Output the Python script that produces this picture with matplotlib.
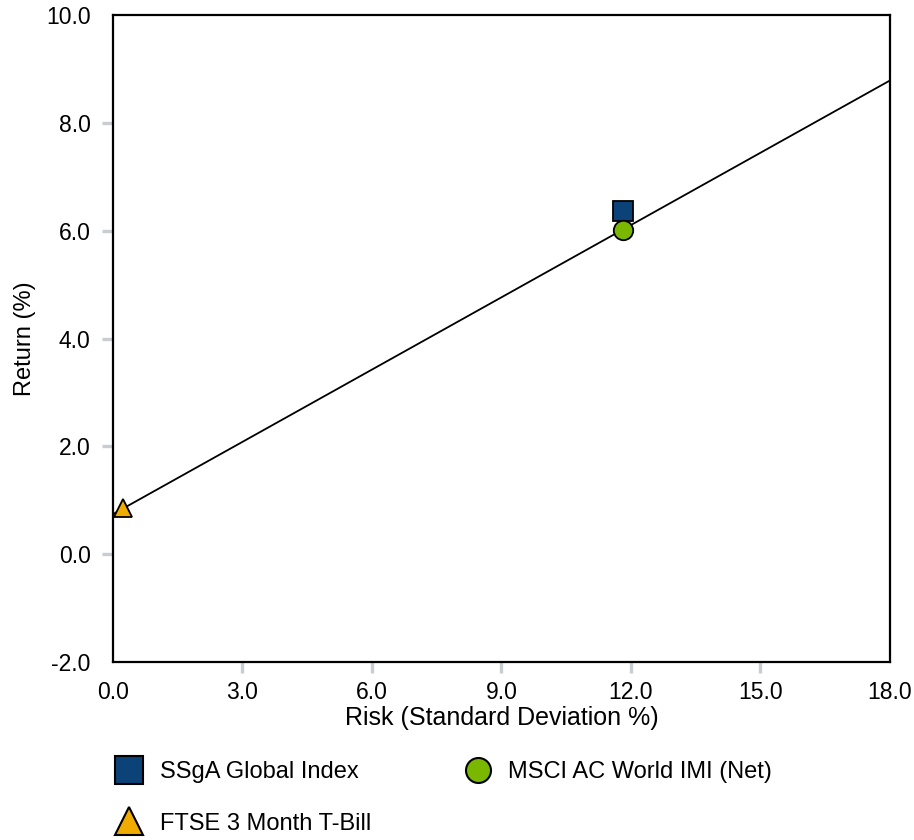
import numpy as np
import matplotlib.pyplot as plt
from matplotlib.lines import Line2D

plt.rcParams['font.family'] = ['Liberation Sans', 'DejaVu Sans']

# risk / return points
names = ['SSgA Global Index', 'MSCI AC World IMI (Net)', 'FTSE 3 Month T-Bill']
risk = [11.81, 11.81, 0.24]
ret = [6.37, 6.02, 0.85]
markers = ['s', 'o', '^']
colors = ['#0b4277', '#7ab800', '#f0ab00']

x_ticks = [0.0, 3.0, 6.0, 9.0, 12.0, 15.0, 18.0]
y_ticks = [-2.0, 0.0, 2.0, 4.0, 6.0, 8.0, 10.0]

fig = plt.figure(figsize=(9.14, 8.4), dpi=100)
ax = fig.add_axes([0.1236, 0.2119, 0.8501, 0.7702])

# capital market line through the T-bill and the market index
slope = (ret[1] - ret[2]) / (risk[1] - risk[2])
xs = np.array([x_ticks[0], x_ticks[-1]])
ax.plot(xs, ret[2] + slope * (xs - risk[2]), color='black', lw=1.3, zorder=2)

sizes = [14.5, 14, 12.5]
for n, x, y, m, c, s in zip(names, risk, ret, markers, colors, sizes):
    ax.plot([x], [y], linestyle='none', marker=m, markersize=s,
            markerfacecolor=c, markeredgecolor='black', markeredgewidth=1.3,
            zorder=3, clip_on=False)

ax.set_xlim(x_ticks[0], x_ticks[-1])
ax.set_ylim(y_ticks[0], y_ticks[-1])
ax.set_xticks(x_ticks)
ax.set_yticks(y_ticks)
ax.set_xticklabels([f'{v:.1f}' for v in x_ticks])
ax.set_yticklabels([f'{v:.1f}' for v in y_ticks])
ax.tick_params(direction='out', length=8, width=2.4, color='#c8cdd2',
               labelsize=16.5)
ax.tick_params(axis='x', pad=6)
ax.tick_params(axis='y', pad=8)
# no tick marks at the corners
for axis in (ax.xaxis, ax.yaxis):
    ticks = axis.get_major_ticks()
    for t in (ticks[0], ticks[-1]):
        t.tick1line.set_visible(False)

for sp in ax.spines.values():
    sp.set_linewidth(1.6)
    sp.set_color('black')

ax.set_xlabel('Risk (Standard Deviation %)', fontsize=18, labelpad=1)
ax.set_ylabel('Return (%)', fontsize=17, labelpad=7)

# legend: fills column-wise, so order SSgA, T-Bill | MSCI
order = [0, 2, 1]
leg_sizes = [19.5, 18, 19.5]
handles = [Line2D([], [], linestyle='none', marker=markers[i],
                  markersize=leg_sizes[i], markerfacecolor=colors[i],
                  markeredgecolor='black', markeredgewidth=1.5)
           for i in order]
fig.legend(handles, [names[i] for i in order], loc='upper left',
           bbox_to_anchor=(0.1286, 0.094), ncol=2, frameon=False,
           fontsize=17, labelspacing=1.25, columnspacing=4.0,
           handlelength=1.0, handletextpad=0.8, borderpad=0,
           borderaxespad=0)

fig.savefig('out.png', dpi=100)
